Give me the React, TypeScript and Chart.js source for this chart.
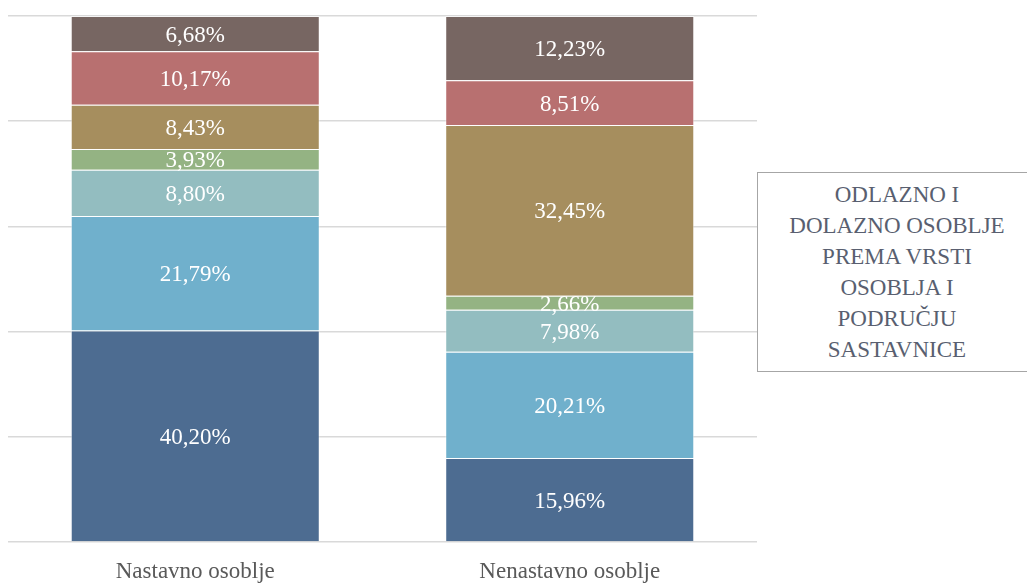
import React, { useEffect, useRef } from "react";
import { Chart, registerables } from "chart.js";

Chart.register(...registerables);

const categories = ["Nastavno osoblje", "Nenastavno osoblje"];
const seriesNames = ["Kategorija 1", "Kategorija 2", "Kategorija 3", "Kategorija 4", "Kategorija 5", "Kategorija 6", "Kategorija 7"];
const series1 = [40.2, 15.96];
const series2 = [21.79, 20.21];
const series3 = [8.8, 7.98];
const series4 = [3.93, 2.66];
const series5 = [8.43, 32.45];
const series6 = [10.17, 8.51];
const series7 = [6.68, 12.23];
const colors = ["#4D6C91", "#70B0CC", "#93BDC0", "#94B383", "#A68E5E", "#B87070", "#776662"];
const yTicks = [0, 20, 40, 60, 80, 100];
const titleLines = ["ODLAZNO I", "DOLAZNO OSOBLJE", "PREMA VRSTI", "OSOBLJA I", "PODRUČJU", "SASTAVNICE"];

const FONT = "'Liberation Serif', 'Times New Roman', serif";

const labelPlugin = {
  id: "segLabels",
  afterDatasetsDraw(chart: any) {
    const ctx = chart.ctx;
    ctx.save();
    ctx.fillStyle = "#FFFFFF";
    ctx.font = `23px ${FONT}`;
    ctx.textAlign = "center";
    ctx.textBaseline = "middle";
    chart.data.datasets.forEach((ds: any, di: number) => {
      const meta = chart.getDatasetMeta(di);
      meta.data.forEach((bar: any, i: number) => {
        const v = ds.data[i];
        const y = (bar.y + bar.base) / 2 + 2;
        ctx.fillText(v.toFixed(2).replace(".", ",") + "%", bar.x, y);
      });
    });
    ctx.restore();
  },
};

export default function App() {
  const ref = useRef<HTMLCanvasElement | null>(null);
  useEffect(() => {
    if (!ref.current) return;
    const all = [series1, series2, series3, series4, series5, series6, series7];
    const chart = new Chart(ref.current, {
      type: "bar",
      data: {
        labels: categories,
        datasets: all.map((d, i) => ({
          label: seriesNames[i],
          data: d,
          backgroundColor: colors[i],
          borderColor: "rgba(255,255,255,0.45)",
          borderWidth: 1,
          barPercentage: 0.665,
          categoryPercentage: 1,
        })),
      },
      options: {
        animation: false,
        responsive: false,
        maintainAspectRatio: false,
        layout: { padding: { left: 8, right: 270, top: 16, bottom: 0 } },
        plugins: {
          legend: { display: false },
          title: { display: false },
          tooltip: { enabled: false },
        },
        scales: {
          x: {
            stacked: true,
            grid: { display: false, drawTicks: false },
            border: { display: false },
            ticks: {
              color: "#595959",
              font: { family: FONT, size: 23 },
              padding: 16,
            },
            afterFit: (axis: any) => {
              axis.height = 41;
            },
          },
          y: {
            stacked: true,
            min: 0,
            max: 100,
            afterBuildTicks: (axis: any) => {
              axis.ticks = yTicks.map((v) => ({ value: v }));
            },
            grid: { color: "#D9D9D9", lineWidth: 1.5, drawTicks: false },
            border: { display: false },
            ticks: { display: false },
          },
        },
      },
      plugins: [labelPlugin],
    });
    return () => chart.destroy();
  }, []);

  return (
    <div style={{ position: "absolute", left: 0, top: 0, width: 1027, height: 583, background: "#fff", overflow: "hidden" }}>
      <canvas ref={ref} width={1027} height={583} style={{ display: "block" }} />
      <div
        style={{
          position: "absolute",
          left: 757,
          top: 172,
          width: 280,
          height: 200,
          boxSizing: "border-box",
          border: "1.5px solid #A6A6A6",
          background: "#fff",
          display: "flex",
          flexDirection: "column",
          justifyContent: "center",
          alignItems: "center",
          fontFamily: FONT,
          fontSize: 23,
          lineHeight: "31px",
          color: "#595F70",
          textAlign: "center",
        }}
      >
        {titleLines.map((t, i) => (
          <div key={i}>{t}</div>
        ))}
      </div>
    </div>
  );
}
